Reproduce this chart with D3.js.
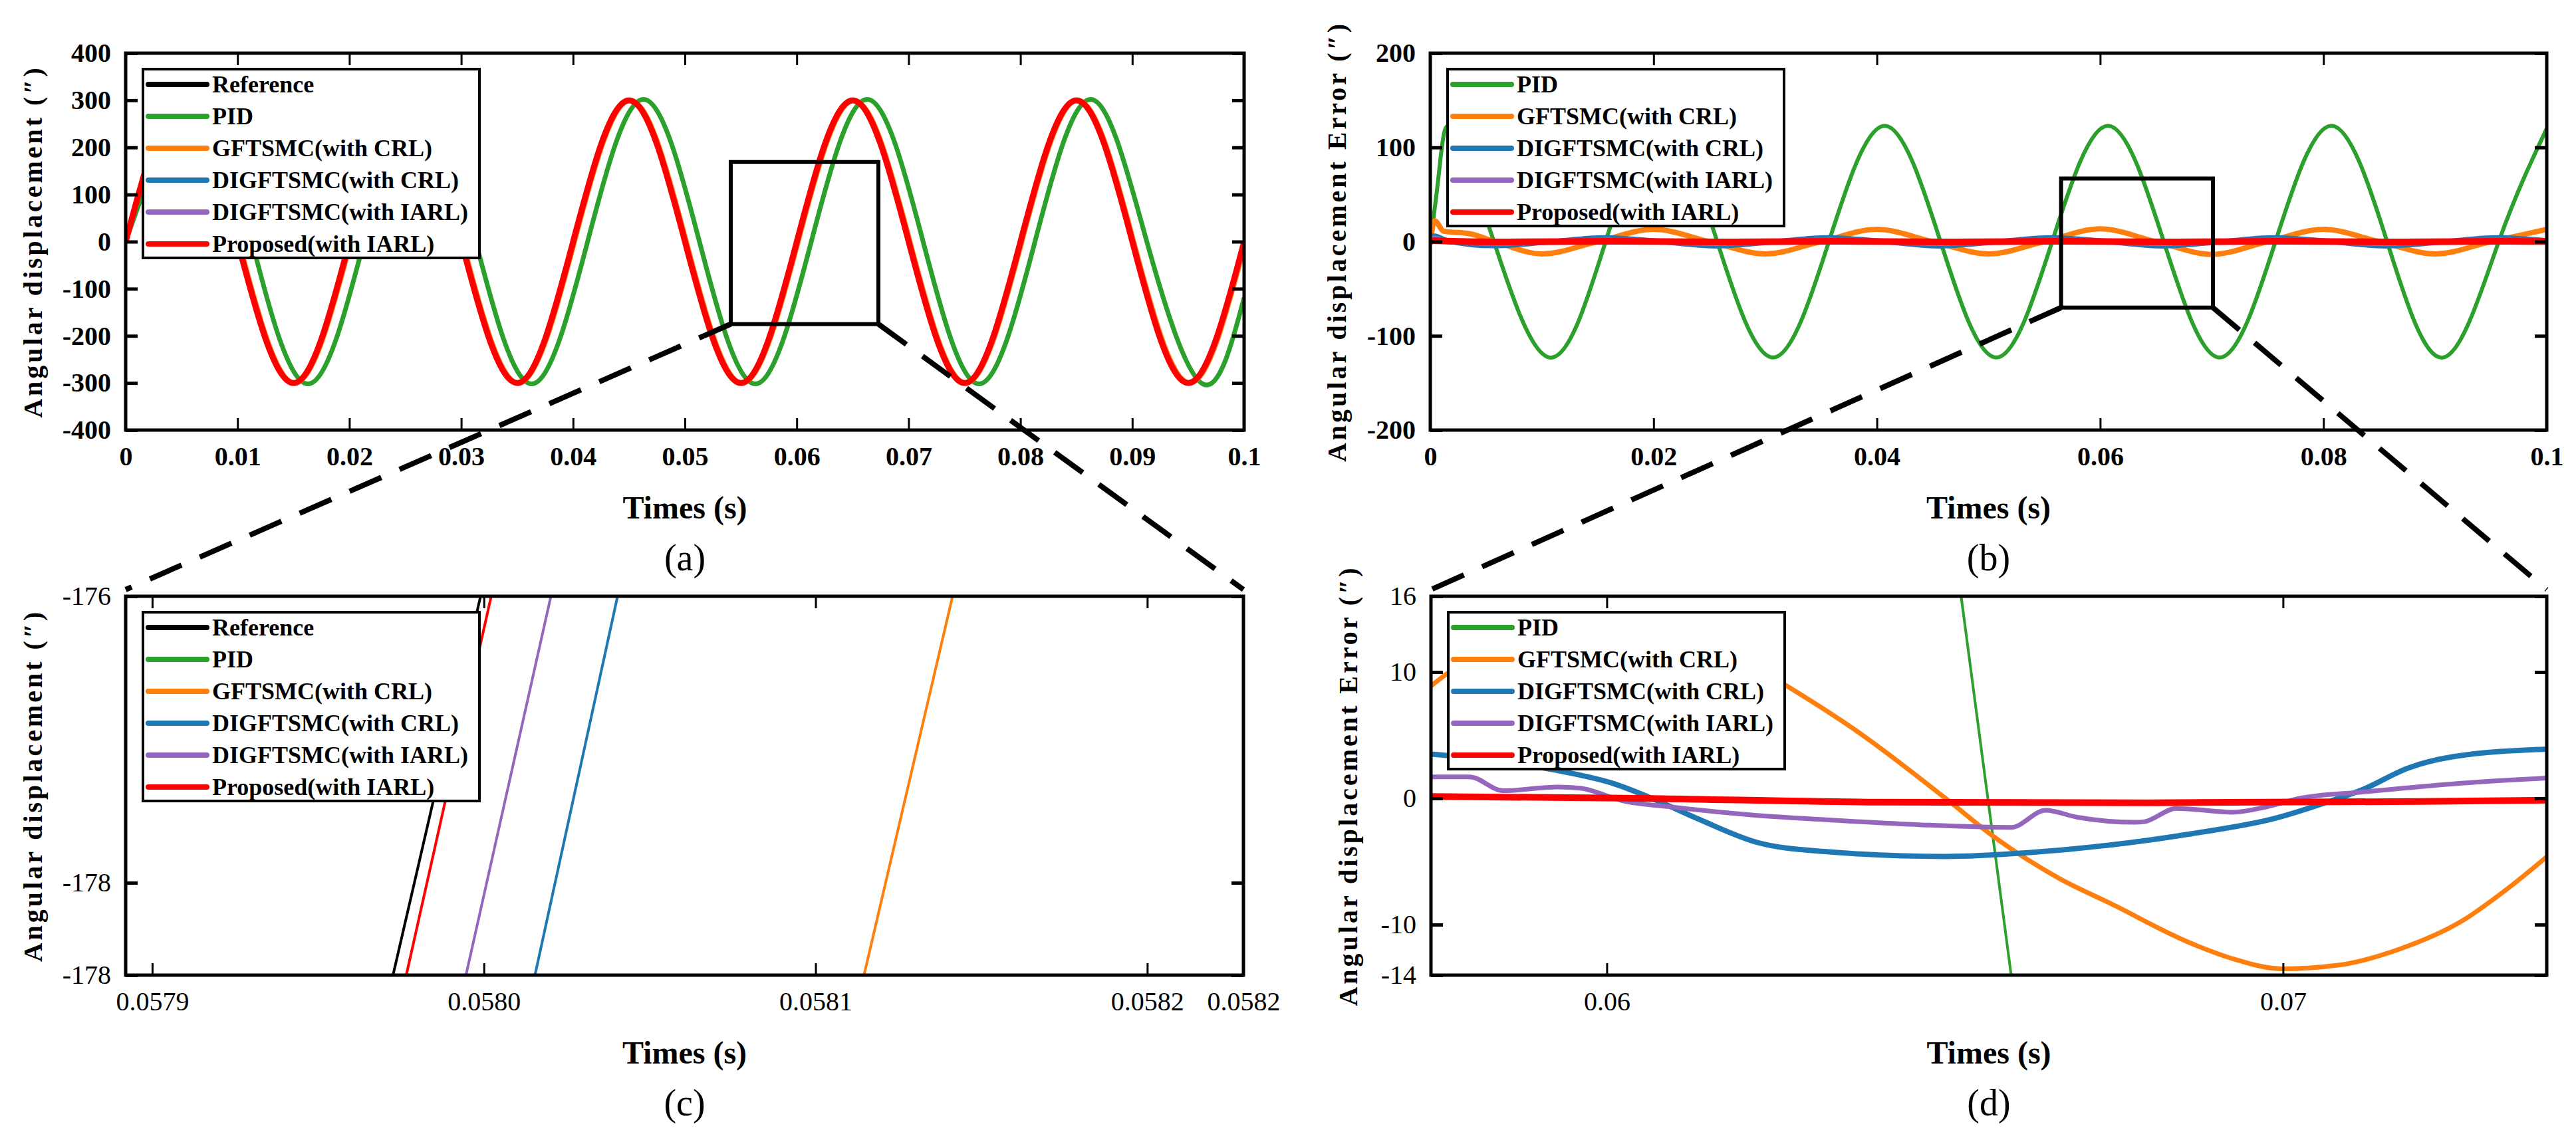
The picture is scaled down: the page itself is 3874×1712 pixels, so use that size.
<!DOCTYPE html>
<html>
<head>
<meta charset="utf-8">
<script src="https://cdn.jsdelivr.net/npm/d3@7"></script>
<style>
  body { margin: 0; background: #fff; }
  svg { display: block; background: #fff; }
</style>
</head>
<body>
<svg id="fig" width="3874" height="1712"></svg>
<script>

// ---------- series names and colours ----------
const seriesNames = ["Reference", "PID", "GFTSMC(with CRL)", "DIGFTSMC(with CRL)", "DIGFTSMC(with IARL)", "Proposed(with IARL)"];
const seriesColors = ["#000000", "#2ca02c", "#ff7f0e", "#1f77b4", "#9467bd", "#ff0000"];

// ---------- (a) angular displacement, key points ----------
const tRefA  = [0, 0.005, 0.01, 0.015, 0.02, 0.025, 0.03, 0.035, 0.04, 0.045, 0.05, 0.055, 0.06, 0.065, 0.07, 0.075, 0.08, 0.085, 0.09, 0.095, 0.1];
const vRefA  = [0, 300, 0, -300, 0, 300, 0, -300, 0, 300, 0, -300, 0, 300, 0, -300, 0, 300, 0, -300, 0];
const tPidA  = [0, 0.0063, 0.0113, 0.0163, 0.0213, 0.0263, 0.0313, 0.0363, 0.0413, 0.0463, 0.0513, 0.0563, 0.0613, 0.0663, 0.0713, 0.0763, 0.0813, 0.0863, 0.0913, 0.0963, 0.1];
const vPidA  = [0, 302, 0, -302, 0, 302, 0, -302, 0, 302, 0, -302, 0, 302, 0, -302, 0, 302, 0, -302, -119];
const tGftA  = [0, 0.00514, 0.01014, 0.01514, 0.02014, 0.02514, 0.03014, 0.03514, 0.04014, 0.04514, 0.05014, 0.05514, 0.06014, 0.06514, 0.07014, 0.07514, 0.08014, 0.08514, 0.09014, 0.09514, 0.1];
const vGftA  = [0, 300, 0, -300, 0, 300, 0, -300, 0, 300, 0, -300, 0, 300, 0, -300, 0, 300, 0, -300, -13];
const tDigA  = [0, 0.00504, 0.01004, 0.01504, 0.02004, 0.02504, 0.03004, 0.03504, 0.04004, 0.04504, 0.05004, 0.05504, 0.06004, 0.06504, 0.07004, 0.07504, 0.08004, 0.08504, 0.09004, 0.09504, 0.1];
const vDigA  = [0, 300, 0, -300, 0, 300, 0, -300, 0, 300, 0, -300, 0, 300, 0, -300, 0, 300, 0, -300, -4];
const tIarlA = [0, 0.00502, 0.01002, 0.01502, 0.02002, 0.02502, 0.03002, 0.03502, 0.04002, 0.04502, 0.05002, 0.05502, 0.06002, 0.06502, 0.07002, 0.07502, 0.08002, 0.08502, 0.09002, 0.09502, 0.1];
const vIarlA = [0, 300, 0, -300, 0, 300, 0, -300, 0, 300, 0, -300, 0, 300, 0, -300, 0, 300, 0, -300, -2];
const tPropA = [0, 0.00501, 0.01001, 0.01501, 0.02001, 0.02501, 0.03001, 0.03501, 0.04001, 0.04501, 0.05001, 0.05501, 0.06001, 0.06501, 0.07001, 0.07501, 0.08001, 0.08501, 0.09001, 0.09501, 0.1];
const vPropA = [0, 300, 0, -300, 0, 300, 0, -300, 0, 300, 0, -300, 0, 300, 0, -300, 0, 300, 0, -300, -0.4];

// ---------- (b) angular displacement error ----------
const tPidB  = [0, 0.0007, 0.0013, 0.0025, 0.0057, 0.0107, 0.0157, 0.0207, 0.0257, 0.0307, 0.0357, 0.0407, 0.0457, 0.0507, 0.0557, 0.0607, 0.0657, 0.0707, 0.0757, 0.0807, 0.0857, 0.0907, 0.0957, 0.1];
const vPidB  = [0, 65, 118, 104, 0, -123, 0, 123, 0, -123, 0, 123, 0, -123, 0, 123, 0, -123, 0, 123, 0, -123, 0, 120];
const tGftB  = [0, 0.0004, 0.0012, 0.0035, 0.0058, 0.01, 0.015, 0.02, 0.025, 0.03, 0.035, 0.04, 0.045, 0.05, 0.055, 0.06, 0.065, 0.07, 0.075, 0.08, 0.085, 0.09, 0.095, 0.1];
const vGftB  = [0, 22, 11, 8.5, 0, -13, 0, 13, 0, -13, 0, 13, 0, -13, 0, 13.5, 0, -13.5, 0, 13, 0, -13, 0, 13];
const tDigB  = [0, 0.0003, 0.0015, 0.0056, 0.0109, 0.0156, 0.0207, 0.0256, 0.0309, 0.0356, 0.0407, 0.0456, 0.0509, 0.0556, 0.0607, 0.0656, 0.0709, 0.0756, 0.0807, 0.0856, 0.0909, 0.0956, 0.1];
const vDigB  = [0, 6, 1, -4.3, 0, 4, 0, -4.5, 0, 4, 0, -4.5, 0, 4, 0, -4.5, 0, 4, 0, -4.5, 0, 4, 0.8];
const tIarlB = [0, 0.0003, 0.0015, 0.0056, 0.0105, 0.0156, 0.0203, 0.0256, 0.0303, 0.0356, 0.0403, 0.0456, 0.0503, 0.0556, 0.0603, 0.0656, 0.0703, 0.0756, 0.0803, 0.0856, 0.0903, 0.0956, 0.1];
const vIarlB = [0, 4, 0.5, -2, 0, 1.8, 0, -2.2, 0, 1.8, 0, -2.2, 0, 1.8, 0, -2.2, 0, 1.8, 0, -2.2, 0, 1.8, 0.4];
const tPropB = [0, 0.0003, 0.002, 0.0065, 0.0165, 0.0265, 0.0365, 0.0465, 0.0565, 0.0665, 0.0765, 0.0865, 0.0965, 0.1];
const vPropB = [0, 1, 0.3, -0.3, 0.3, -0.3, 0.3, -0.3, 0.3, -0.35, 0.3, -0.3, 0.3, 0.2];

// ---------- (c) zoom of (a): straight segments crossing the window ----------
const tRefC  = [0.0579726, 0.0579990];
const tGftC  = [0.0581146, 0.0581413];
const tDigC  = [0.0580154, 0.0580403];
const tIarlC = [0.0579946, 0.0580202];
const tPropC = [0.0579766, 0.0580022];
const vLineC = [-178.645, -176];

// ---------- (d) zoom of (b) ----------
const tPidD  = [0.06524, 0.06598];
const vPidD  = [16, -14];
const tGftD  = [0.0574, 0.058, 0.059, 0.06, 0.061, 0.062, 0.0626, 0.06377, 0.06501, 0.06574, 0.06671, 0.06744, 0.06865, 0.06926, 0.06999, 0.07083, 0.07169, 0.07265, 0.07326, 0.07393];
const vGftD  = [8.9, 11.2, 13.0, 13.5, 12.8, 11.0, 9.1, 5.05, 0, -3.1, -6.4, -8.3, -11.5, -12.7, -13.5, -13.2, -12.0, -9.7, -7.4, -4.5];
const tDigD  = [0.0574, 0.05763, 0.05927, 0.06011, 0.06073, 0.06138, 0.06223, 0.06319, 0.06501, 0.06623, 0.06744, 0.06865, 0.06987, 0.07071, 0.07118, 0.07185, 0.07252, 0.0739];
const vDigD  = [3.5, 3.4, 2.2, 1.15, -0.15, -1.7, -3.5, -4.2, -4.6, -4.3, -3.7, -2.8, -1.6, -0.2, 0.7, 2.4, 3.3, 3.9];
const tIarlD = [0.0574, 0.05797, 0.05847, 0.05927, 0.05961, 0.06024, 0.06098, 0.06211, 0.06324, 0.06465, 0.06598, 0.06649, 0.06696, 0.06781, 0.06795, 0.06842, 0.06926, 0.06974, 0.07025, 0.07118, 0.07252, 0.0739];
const vIarlD = [1.7, 1.7, 0.6, 0.9, 0.8, -0.2, -0.7, -1.3, -1.7, -2.1, -2.3, -0.95, -1.5, -1.9, -1.85, -0.8, -1.1, -0.7, 0.0, 0.5, 1.15, 1.6];
const tPropD = [0.0574, 0.0605, 0.064, 0.068, 0.072, 0.0739];
const vPropD = [0.15, 0.0, -0.3, -0.35, -0.25, -0.15];

// ---------- tick values ----------
const xTicksA = [0, 0.01, 0.02, 0.03, 0.04, 0.05, 0.06, 0.07, 0.08, 0.09, 0.1];
const yTicksA = [-400, -300, -200, -100, 0, 100, 200, 300, 400];
const xTicksB = [0, 0.02, 0.04, 0.06, 0.08, 0.1];
const yTicksB = [-200, -100, 0, 100, 200];
const xTicksC = [0.0579, 0.058, 0.0581, 0.0582, 0.058229];
const yTicksC = [-178.645, -178, -176];
const xTicksD = [0.06, 0.07];
const yTicksD = [-14, -10, 0, 10, 16];

// zoom windows drawn in (a) and (b)
const zoomTA = [0.0541, 0.0673], zoomVA = [-175, 169];
const zoomTB = [0.0565, 0.0701], zoomVB = [-70, 67];

// ---------- drawing ----------
const FONT = "'Liberation Serif','Times New Roman',Times,serif";
const svg = d3.select("#fig");

function pts(ts, vs) { return ts.map((t, i) => ({ t: t, v: vs[i] })); }

const panels = [
	{
		key: "a", box: [189, 80, 1871, 647],
		xDomain: [0, 0.1], yDomain: [-400, 400],
		xTicks: xTicksA, yTicks: yTicksA,
		xFmt: d => String(d), yFmt: d => String(d), tickWeight: "bold",
		series: [[tRefA, vRefA], [tPidA, vPidA], [tGftA, vGftA], [tDigA, vDigA], [tIarlA, vIarlA], [tPropA, vPropA]],
		widths: [6, 7, 7, 7, 7, 9],
		curves: Array(6).fill(d3.curveNatural),
		legend: [0, 1, 2, 3, 4, 5],
		yTitle: "Angular displacement (\u2033)", yTitleOff: 140, tag: "(a)",
		zoom: [zoomTA, zoomVA]
	},
	{
		key: "b", box: [2151, 80, 3830, 647],
		xDomain: [0, 0.1], yDomain: [-200, 200],
		xTicks: xTicksB, yTicks: yTicksB,
		xFmt: d => String(d), yFmt: d => String(d), tickWeight: "bold",
		series: [null, [tPidB, vPidB], [tGftB, vGftB], [tDigB, vDigB], [tIarlB, vIarlB], [tPropB, vPropB]],
		widths: [0, 6, 8, 8, 7, 10],
		curves: [null, d3.curveNatural, d3.curveMonotoneX, d3.curveMonotoneX, d3.curveMonotoneX, d3.curveMonotoneX],
		legend: [1, 2, 3, 4, 5],
		yTitle: "Angular displacement Error (\u2033)", yTitleOff: 141, tag: "(b)",
		zoom: [zoomTB, zoomVB]
	},
	{
		key: "c", box: [189, 897, 1870, 1467],
		xDomain: [0.057892, 0.058229], yDomain: [-178.645, -176],
		xTicks: xTicksC, yTicks: yTicksC,
		xFmt: d3.format(".4f"), yFmt: d => String(Math.trunc(d)), tickWeight: "normal",
		series: [[tRefC, vLineC], null, [tGftC, vLineC], [tDigC, vLineC], [tIarlC, vLineC], [tPropC, vLineC]],
		widths: [4, 4, 4, 4, 4, 4],
		curves: Array(6).fill(d3.curveLinear),
		legend: [0, 1, 2, 3, 4, 5],
		yTitle: "Angular displacement (\u2033)", yTitleOff: 140, tag: "(c)",
		zoom: null
	},
	{
		key: "d", box: [2152, 897, 3830, 1467],
		xDomain: [0.0574, 0.0739], yDomain: [-14, 16],
		xTicks: xTicksD, yTicks: yTicksD,
		xFmt: d => String(d), yFmt: d => String(d), tickWeight: "normal",
		series: [null, [tPidD, vPidD], [tGftD, vGftD], [tDigD, vDigD], [tIarlD, vIarlD], [tPropD, vPropD]],
		widths: [0, 4, 7, 8, 7, 10],
		curves: Array(6).fill(d3.curveMonotoneX),
		legend: [1, 2, 3, 4, 5],
		yTitle: "Angular displacement Error (\u2033)", yTitleOff: 125, tag: "(d)",
		zoom: null
	}
];

function drawPanel(p) {
	const [L, T, R, B] = p.box;
	const x = d3.scaleLinear().domain(p.xDomain).range([L, R]);
	const y = d3.scaleLinear().domain(p.yDomain).range([B, T]);
	p.x = x; p.y = y;

	const clipId = "clip-" + p.key;
	svg.append("clipPath").attr("id", clipId)
		.append("rect").attr("x", L).attr("y", T).attr("width", R - L).attr("height", B - T);

	// series lines
	const lines = svg.append("g").attr("clip-path", "url(#" + clipId + ")");
	p.series.forEach((s, i) => {
		if (!s) return;
		const line = d3.line().x(d => x(d.t)).y(d => y(d.v)).curve(p.curves[i]);
		lines.append("path")
			.datum(pts(s[0], s[1]))
			.attr("d", line)
			.attr("fill", "none")
			.attr("stroke", seriesColors[i])
			.attr("stroke-width", p.widths[i])
			.attr("stroke-linejoin", "round");
	});

	// zoom window
	if (p.zoom) {
		const [zt, zv] = p.zoom;
		svg.append("rect")
			.attr("x", x(zt[0])).attr("y", y(zv[1]))
			.attr("width", x(zt[1]) - x(zt[0])).attr("height", y(zv[0]) - y(zv[1]))
			.attr("fill", "none").attr("stroke", "#000").attr("stroke-width", 6);
	}

	// axes, ticks pointing inward
	const styleAxis = (g, lw) => {
		g.select(".domain").remove();
		g.selectAll(".tick line").attr("stroke", "#000").attr("stroke-width", lw);
		g.attr("font-family", FONT).attr("font-size", 40).attr("font-weight", p.tickWeight);
		g.selectAll(".tick text").attr("fill", "#000");
	};
	svg.append("g").attr("transform", `translate(0,${B})`)
		.call(d3.axisBottom(x).tickValues(p.xTicks).tickSize(-18).tickPadding(25).tickFormat(p.xFmt))
		.call(g => styleAxis(g, 3));
	svg.append("g").attr("transform", `translate(0,${T})`)
		.call(d3.axisTop(x).tickValues(p.xTicks).tickSize(-18).tickFormat(""))
		.call(g => styleAxis(g, 3));
	svg.append("g").attr("transform", `translate(${L},0)`)
		.call(d3.axisLeft(y).tickValues(p.yTicks).tickSize(-18).tickPadding(22).tickFormat(p.yFmt))
		.call(g => styleAxis(g, 5));
	svg.append("g").attr("transform", `translate(${R},0)`)
		.call(d3.axisRight(y).tickValues(p.yTicks).tickSize(-18).tickFormat(""))
		.call(g => styleAxis(g, 5));

	// frame
	svg.append("rect")
		.attr("x", L).attr("y", T).attr("width", R - L).attr("height", B - T)
		.attr("fill", "none").attr("stroke", "#000").attr("stroke-width", 5);

	// legend
	const lx = L + 26, ly = T + 24, rowH = 48;
	const n = p.legend.length;
	const lg = svg.append("g");
	lg.append("rect")
		.attr("x", lx).attr("y", ly)
		.attr("width", 506).attr("height", 22 + (n - 1) * rowH + 22)
		.attr("fill", "#fff").attr("stroke", "#000").attr("stroke-width", 4);
	p.legend.forEach((si, k) => {
		const ry = ly + 23 + k * rowH;
		lg.append("line")
			.attr("x1", lx + 8).attr("x2", lx + 96).attr("y1", ry).attr("y2", ry)
			.attr("stroke", seriesColors[si]).attr("stroke-width", 8).attr("stroke-linecap", "round");
		lg.append("text")
			.attr("x", lx + 104).attr("y", ry).attr("dy", "0.33em")
			.attr("font-family", FONT).attr("font-size", 36).attr("font-weight", "bold")
			.text(seriesNames[si]);
	});

	// titles
	const cx = (L + R) / 2, cy = (T + B) / 2;
	svg.append("text")
		.attr("transform", `translate(${L - p.yTitleOff},${cy}) rotate(-90)`)
		.attr("text-anchor", "middle").attr("dy", "0.35em")
		.attr("font-family", FONT).attr("font-size", 40).attr("font-weight", "bold")
		.attr("letter-spacing", 4)
		.text(p.yTitle);
	svg.append("text")
		.attr("x", cx).attr("y", B + 117).attr("dy", "0.33em")
		.attr("text-anchor", "middle")
		.attr("font-family", FONT).attr("font-size", 48).attr("font-weight", "bold")
		.text("Times (s)");
	svg.append("text")
		.attr("x", cx).attr("y", B + 193).attr("dy", "0.33em")
		.attr("text-anchor", "middle")
		.attr("font-family", FONT).attr("font-size", 56)
		.text(p.tag);
}

panels.forEach(drawPanel);

// dashed connectors from the zoom windows to the zoomed panels
function connect(src, dst) {
	const [zt, zv] = src.zoom;
	const [L, T, R] = dst.box;
	const segs = [
		[src.x(zt[0]), src.y(zv[0]), L, T - 10],
		[src.x(zt[1]), src.y(zv[0]), R, T - 10]
	];
	svg.append("g").selectAll("line").data(segs).enter().append("line")
		.attr("x1", d => d[0]).attr("y1", d => d[1])
		.attr("x2", d => d[2]).attr("y2", d => d[3])
		.attr("stroke", "#000").attr("stroke-width", 8)
		.attr("stroke-dasharray", "52,30");
}
connect(panels[0], panels[2]);
connect(panels[1], panels[3]);

</script>
</body>
</html>
